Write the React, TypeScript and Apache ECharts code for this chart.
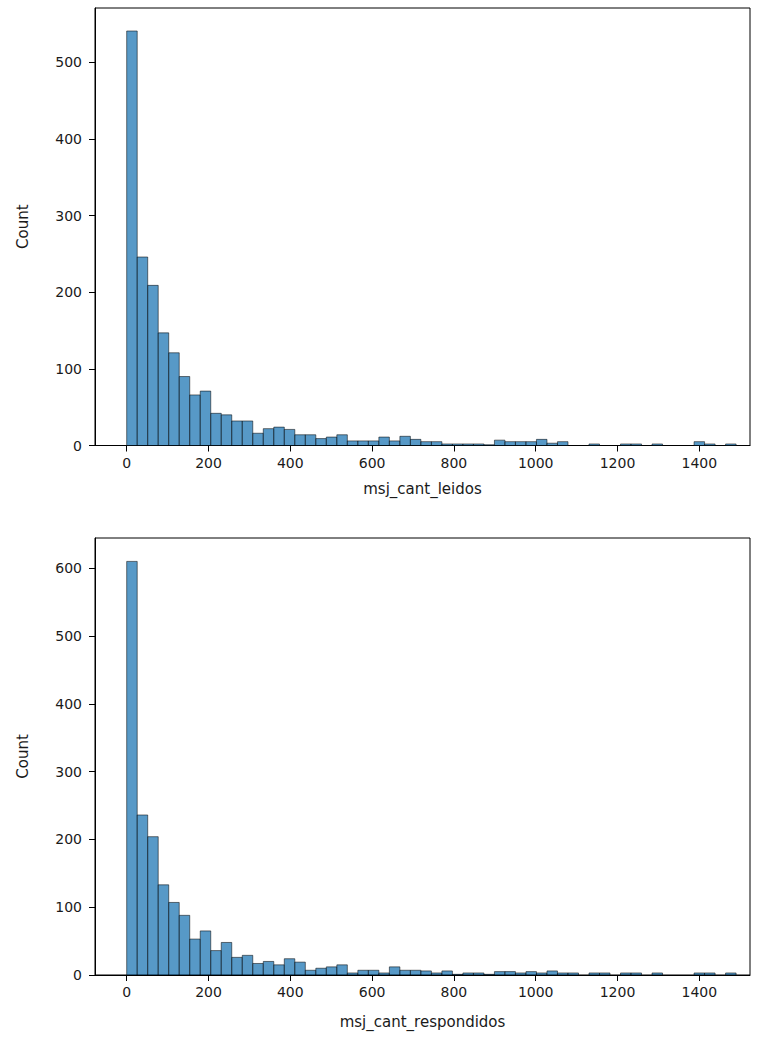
import React, { useEffect, useRef } from "react";
import * as echarts from "echarts";

// Histogram bins: 58 equal bins spanning 0 .. 1490
const BIN_COUNT = 58;
const DATA_MAX = 1490;

const leidosCounts = [
  541, 246, 209, 147, 121, 90, 66, 71, 42, 40, 32, 32, 16, 22, 24, 21, 14, 14, 9, 11,
  14, 6, 6, 6, 11, 6, 12, 8, 5, 5, 2, 2, 2, 2, 1, 7, 5, 5, 5, 8,
  3, 5, 0, 0, 2, 0, 0, 2, 2, 0, 2, 0, 0, 0, 5, 2, 0, 2,
];

const respondidosCounts = [
  610, 236, 204, 133, 107, 88, 53, 65, 36, 48, 26, 29, 17, 20, 15, 24, 19, 7, 10, 12,
  15, 3, 7, 7, 3, 12, 7, 7, 6, 3, 6, 1, 3, 3, 1, 5, 5, 3, 5, 3,
  6, 3, 3, 0, 3, 3, 0, 3, 3, 0, 3, 0, 0, 0, 3, 3, 0, 3,
];

const xTicks = [0, 200, 400, 600, 800, 1000, 1200, 1400];
const yTicksTop = [0, 100, 200, 300, 400, 500];
const yTicksBottom = [0, 100, 200, 300, 400, 500, 600];

const xLabelTop = "msj_cant_leidos";
const xLabelBottom = "msj_cant_respondidos";
const yLabel = "Count";

function toBins(counts: number[]) {
  const w = DATA_MAX / BIN_COUNT;
  return counts.map((c, i) => [i * w, (i + 1) * w, c]);
}

const FONT = "DejaVu Sans";
const TEXT_COLOR = "#1a1a1a";
const TICK_SIZE = 14;
const LABEL_SIZE = 15;

function renderBar(params: any, api: any) {
  const x0 = api.value(0);
  const x1 = api.value(1);
  const c = api.value(2);
  if (!c) return null;
  const p0 = api.coord([x0, c]);
  const p1 = api.coord([x1, 0]);
  return {
    type: "rect",
    shape: { x: p0[0], y: p0[1], width: p1[0] - p0[0], height: p1[1] - p0[1] },
    style: { fill: "#1f77b4", stroke: "#000000", lineWidth: 0.7, opacity: 0.75 },
  };
}

const plain = (v: number) => String(v);

export default function App() {
  const ref = useRef<HTMLDivElement>(null);
  useEffect(() => {
    if (!ref.current) return;
    const chart = echarts.init(ref.current, null, { renderer: "svg" });
    const xAxisBase = (name: string, gridIndex: number, gap: number) => ({
      type: "value",
      gridIndex,
      min: -77.5,
      max: 1524,
      name,
      nameLocation: "middle",
      nameGap: gap,
      nameTextStyle: { fontFamily: FONT, fontSize: LABEL_SIZE, color: TEXT_COLOR },
      axisLine: { show: true, onZero: false, lineStyle: { color: "#000", width: 1 } },
      axisTick: { show: true, length: 6, customValues: xTicks, lineStyle: { color: "#000" } },
      axisLabel: {
        customValues: xTicks,
        formatter: plain,
        margin: 10,
        fontFamily: FONT,
        fontSize: TICK_SIZE,
        color: TEXT_COLOR,
      },
      splitLine: { show: false },
    });
    const yAxisBase = (gridIndex: number, max: number, ticks: number[]) => ({
      type: "value",
      gridIndex,
      min: 0,
      max,
      name: yLabel,
      nameLocation: "middle",
      nameGap: 65,
      nameRotate: 90,
      nameTextStyle: { fontFamily: FONT, fontSize: LABEL_SIZE, color: TEXT_COLOR },
      axisLine: { show: true, onZero: false, lineStyle: { color: "#000", width: 1 } },
      axisTick: { show: true, length: 6, customValues: ticks, lineStyle: { color: "#000" } },
      axisLabel: {
        customValues: ticks,
        formatter: plain,
        margin: 13,
        fontFamily: FONT,
        fontSize: TICK_SIZE,
        color: TEXT_COLOR,
      },
      splitLine: { show: false },
    });
    chart.setOption({
      animation: false,
      backgroundColor: "#ffffff",
      grid: [
        { left: 95, right: 8, top: 8, height: 437.5, show: true, borderColor: "#000", borderWidth: 1 },
        { left: 95, right: 8, top: 538, height: 437, show: true, borderColor: "#000", borderWidth: 1 },
      ],
      xAxis: [xAxisBase(xLabelTop, 0, 36), xAxisBase(xLabelBottom, 1, 39)],
      yAxis: [yAxisBase(0, 571, yTicksTop), yAxisBase(1, 644.5, yTicksBottom)],
      series: [
        {
          type: "custom",
          xAxisIndex: 0,
          yAxisIndex: 0,
          renderItem: renderBar,
          encode: { x: [0, 1], y: 2 },
          data: toBins(leidosCounts),
          clip: true,
        },
        {
          type: "custom",
          xAxisIndex: 1,
          yAxisIndex: 1,
          renderItem: renderBar,
          encode: { x: [0, 1], y: 2 },
          data: toBins(respondidosCounts),
          clip: true,
        },
      ],
    });
    return () => chart.dispose();
  }, []);
  return (
    <div
      ref={ref}
      style={{ position: "absolute", left: 0, top: 0, width: 758, height: 1043, background: "#fff" }}
    />
  );
}
